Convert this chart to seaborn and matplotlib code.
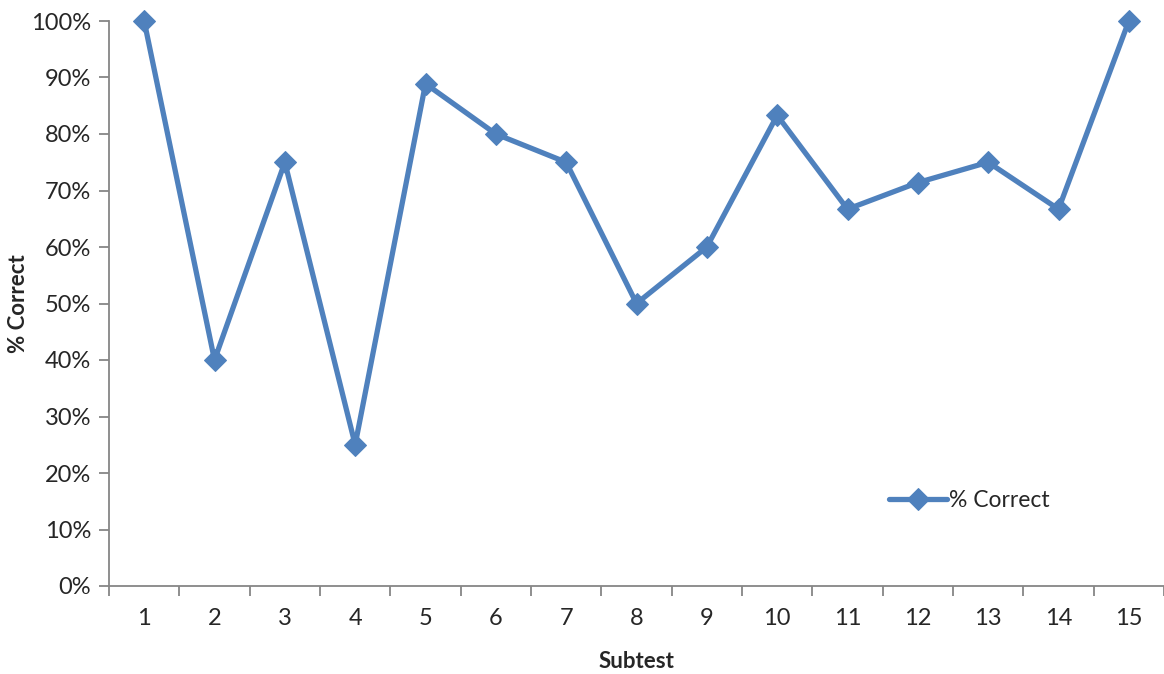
import pandas as pd
import seaborn as sns
import matplotlib.pyplot as plt
from matplotlib.ticker import PercentFormatter, MultipleLocator

subtests = list(range(1, 16))
pct_correct = [100, 40, 75, 25, 88.9, 80, 75, 50, 60, 83.3, 66.7, 71.4, 75, 66.7, 100]

df = pd.DataFrame({'Subtest': subtests, '% Correct': pct_correct})

sns.set_style('white')
plt.rcParams['font.family'] = ['Lato', 'DejaVu Sans']

fig = plt.figure(figsize=(11.64, 6.74), dpi=100)
ax = fig.add_axes([109/1164, 1 - 586/674, 1 - 109/1164, (586 - 21)/674])

blue = '#4F81BD'
sns.lineplot(data=df, x='Subtest', y='% Correct', ax=ax, color=blue, linewidth=3.8,
             marker='D', markersize=11, markeredgecolor=blue, label='% Correct',
             clip_on=False, zorder=5)

ax.set_xlim(0.5, 15.5)
ax.set_ylim(0, 100)
ax.yaxis.set_major_locator(MultipleLocator(10))
ax.yaxis.set_major_formatter(PercentFormatter(decimals=0))
ax.set_xticks(subtests)
ax.set_xticks([s + 0.5 for s in [0] + subtests], minor=True)
ax.tick_params(axis='x', which='major', bottom=True, length=0, labelsize=17, pad=16)
ax.tick_params(axis='x', which='minor', bottom=True, length=7, width=1.3, color='#868686', direction='out')
ax.tick_params(axis='y', which='major', left=True, length=7, width=1.3, color='#868686',
               labelsize=17, direction='out', pad=6)

for side in ['top', 'right']:
    ax.spines[side].set_visible(False)
for side in ['left', 'bottom']:
    ax.spines[side].set_color('#868686')
    ax.spines[side].set_linewidth(1.3)

ax.set_xlabel('Subtest', fontsize=16, fontweight='bold', labelpad=16)
ax.set_ylabel('% Correct', fontsize=16, fontweight='bold', va='center')
ax.yaxis.set_label_coords(-0.086, 0.5)

ax.legend(loc='center left', bbox_to_anchor=(0.72, 0.152), frameon=False, fontsize=16.5,
          handlelength=2.5, handletextpad=0.1)

fig.savefig('out.png', dpi=100)
